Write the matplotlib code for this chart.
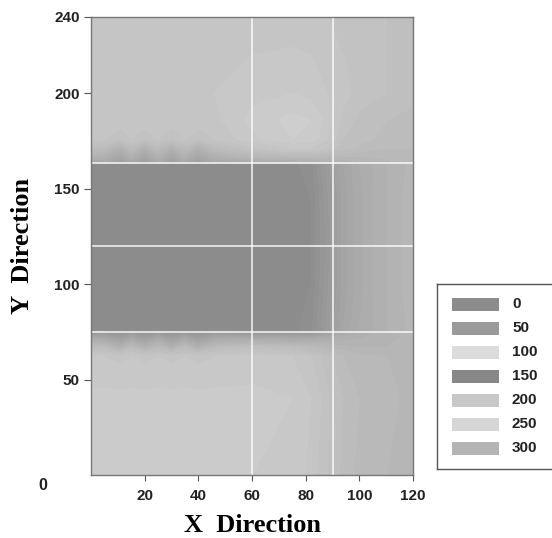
import numpy as np
import matplotlib.pyplot as plt

# grid nodes of the field (x, y in the same units as the axes)
xn = [0, 5, 11, 15, 20, 25, 30, 35, 40, 46, 60, 75, 82, 88, 94, 100, 110, 120]
yn = [0, 40, 62, 67, 71, 74.5, 75.5, 100, 120, 145, 163, 164, 167, 171, 176, 186, 200, 240]

# gray level (0-255) at every node, one row per y node, bottom to top
campo = [
    [201, 201, 201, 201, 201, 201, 201, 201, 201, 201, 201, 200, 197, 192, 188, 185, 183, 181],
    [202, 202, 202, 202, 202, 202, 202, 202, 202, 202, 202, 201, 198, 193, 189, 186, 184, 182],
    [198, 198, 197, 198, 197, 198, 197, 198, 197, 198, 199, 198, 195, 190, 186, 184, 183, 182],
    [188, 186, 176, 186, 176, 186, 176, 186, 176, 186, 190, 188, 186, 183, 181, 180, 180, 181],
    [172, 170, 160, 170, 160, 170, 160, 170, 160, 170, 172, 170, 170, 173, 176, 177, 179, 181],
    [152, 152, 150, 152, 150, 152, 150, 152, 150, 152, 151, 150, 152, 160, 169, 174, 179, 181],
    [141, 141, 141, 141, 141, 141, 141, 141, 141, 141, 140, 140, 143, 154, 165, 171, 177, 181],
    [139, 139, 139, 139, 139, 139, 139, 139, 139, 139, 139, 139, 141, 152, 163, 170, 177, 182],
    [138, 138, 138, 138, 138, 138, 138, 138, 138, 138, 138, 139, 141, 151, 163, 170, 177, 182],
    [139, 139, 139, 139, 139, 139, 139, 139, 139, 139, 139, 139, 141, 152, 163, 170, 177, 182],
    [141, 141, 141, 141, 141, 141, 141, 141, 141, 141, 140, 140, 143, 154, 165, 171, 177, 181],
    [166, 166, 158, 166, 158, 166, 158, 166, 158, 166, 170, 172, 174, 176, 178, 180, 182, 184],
    [178, 176, 166, 176, 166, 176, 166, 176, 166, 176, 182, 185, 185, 184, 183, 183, 184, 185],
    [188, 186, 176, 186, 176, 186, 176, 186, 176, 186, 193, 197, 197, 194, 190, 188, 186, 186],
    [195, 195, 192, 195, 192, 195, 192, 195, 192, 195, 200, 204, 203, 198, 192, 190, 188, 187],
    [197, 197, 197, 197, 197, 197, 197, 197, 197, 197, 202, 205, 204, 200, 194, 191, 189, 188],
    [198, 198, 198, 198, 198, 198, 198, 198, 198, 198, 200, 201, 200, 198, 196, 194, 192, 190],
    [196, 196, 196, 196, 196, 196, 196, 196, 196, 196, 196, 196, 196, 195, 194, 193, 192, 190],
]

# grid lines drawn over the field
lineas_x = [60, 90]
lineas_y = [75, 120, 163.5]

# legend
etiquetas = ['0', '50', '100', '150', '200', '250', '300']
grises = ['#8c8c8c', '#9a9a9a', '#dcdcdc', '#878787', '#c8c8c8', '#d6d6d6', '#b4b4b4']

xticks = [20, 40, 60, 80, 100, 120]
yticks = [50, 100, 150, 200, 240]

W, H = 552, 538
fig = plt.figure(figsize=(W / 100, H / 100), dpi=100)
ax = fig.add_axes([91 / W, 1 - 475 / H, (413 - 91) / W, (475 - 17) / H])

X, Y = np.meshgrid(xn, yn)
Z = np.array(campo, dtype=float)
niveles = np.arange(132, 212, 3)
ax.contourf(X, Y, Z, levels=niveles, cmap='gray', vmin=0, vmax=255, extend='both')

for xv in lineas_x:
    ax.axvline(xv, color='white', lw=1.2, alpha=0.85)
for yv in lineas_y:
    ax.axhline(yv, color='white', lw=1.2, alpha=0.85)

ax.set_xlim(0, 120)
ax.set_ylim(0, 240)
ax.set_xticks(xticks)
ax.set_yticks(yticks)
ax.tick_params(axis='x', length=4, pad=6, color='#555555')
ax.tick_params(axis='y', length=5, pad=3, color='#555555')
for lab in ax.get_xticklabels() + ax.get_yticklabels():
    lab.set_fontfamily('Liberation Sans')
    lab.set_fontweight('bold')
    lab.set_fontsize(11)
    lab.set_color('#222222')
for s in ax.spines.values():
    s.set_color('#777777')
    s.set_linewidth(1)

fig.text(43 / W, 1 - 485 / H, '0', ha='center', va='center',
         family='Liberation Sans', weight='bold', fontsize=11.5, color='#222222')

ax.set_xlabel('X  Direction', family='Liberation Serif', weight='bold', fontsize=19, labelpad=8)
ax.set_ylabel('Y  Direction', family='Liberation Serif', weight='bold', fontsize=19, labelpad=15)

# legend box (runs past the right edge)
axl = fig.add_axes([437 / W, 1 - 469 / H, 140 / W, 185 / H])
axl.set_xlim(0, 140)
axl.set_ylim(185, 0)
axl.set_xticks([])
axl.set_yticks([])
for s in axl.spines.values():
    s.set_color('#555555')
    s.set_linewidth(1)
filas = np.arange(len(etiquetas)) * 24 + 20
axl.barh(filas, 47, left=15, height=13, color=grises)
for yy, t in zip(filas, etiquetas):
    axl.text(75, yy, t, va='center', ha='left', family='Liberation Sans',
             weight='bold', fontsize=11, color='#222222')

fig.savefig('out.png', dpi=100)
